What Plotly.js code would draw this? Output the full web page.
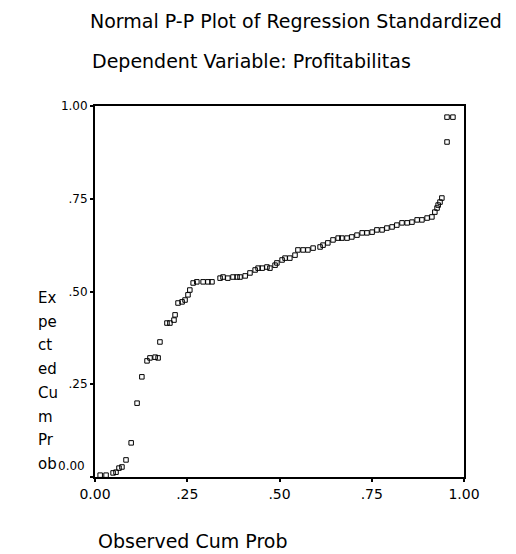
<!DOCTYPE html>
<html>
<head>
<meta charset="utf-8">
<script src="https://cdn.plot.ly/plotly-3.0.1.min.js"></script>
<style>html,body{margin:0;padding:0;background:#fff;}#chart{width:516px;height:554px;}</style>
</head>
<body>
<div id="chart"></div>
<script>
// Observed cumulative probability (x) and expected cumulative probability (y)
var observedCumProb = [
  0.014,0.030,0.049,0.057,0.065,0.073,0.084,0.098,0.114,0.127,
  0.141,0.149,0.163,0.171,0.176,0.195,0.203,0.214,0.217,0.225,
  0.236,0.244,0.252,0.257,0.266,0.276,0.293,0.306,0.317,0.339,
  0.347,0.360,0.374,0.385,0.393,0.407,0.420,0.434,0.442,0.453,
  0.466,0.474,0.488,0.493,0.507,0.515,0.528,0.542,0.550,0.564,
  0.577,0.591,0.610,0.618,0.631,0.645,0.659,0.669,0.683,0.696,
  0.710,0.724,0.737,0.751,0.764,0.778,0.791,0.805,0.818,0.832,
  0.846,0.859,0.873,0.886,0.900,0.913,0.921,0.927,0.930,0.935,
  0.940,0.954,0.954,0.970
];
var expectedCumProb = [
  0.005,0.005,0.011,0.013,0.024,0.027,0.046,0.092,0.199,0.270,
  0.313,0.321,0.323,0.321,0.364,0.415,0.415,0.423,0.437,0.469,
  0.472,0.477,0.491,0.504,0.523,0.526,0.526,0.526,0.526,0.536,
  0.539,0.536,0.539,0.539,0.539,0.542,0.550,0.558,0.563,0.563,
  0.566,0.563,0.571,0.577,0.585,0.590,0.590,0.598,0.612,0.612,
  0.612,0.617,0.620,0.625,0.631,0.639,0.644,0.644,0.644,0.647,
  0.652,0.658,0.658,0.660,0.666,0.666,0.671,0.674,0.679,0.685,
  0.685,0.687,0.693,0.693,0.698,0.701,0.714,0.725,0.733,0.741,
  0.752,0.903,0.970,0.970
];
var tickValues = [0, 0.25, 0.5, 0.75, 1];
var xTickLabels = ["0.00", ".25", ".50", ".75", "1.00"];
var yTickLabels = ["0.00", ".25", ".50", ".75", "1.00"];
var yTitleLines = ["Ex","pe","ct","ed","Cu","m","Pr","ob"];

var FONT = "DejaVu Sans, Arial, sans-serif";
var plotTop = 106, plotBottom = 477, plotH = plotBottom - plotTop;

var annotations = [];
// subtitle
annotations.push({
  text: "Dependent Variable: Profitabilitas",
  xref: "paper", yref: "paper", x: (90-95)/369, y: (plotBottom-61)/plotH,
  xanchor: "left", yanchor: "middle", showarrow: false,
  font: {family: FONT, size: 19, color: "#000"}
});
// stacked y-axis title
var firstY = 298, step = 23.7;
yTitleLines.forEach(function(t, i){
  annotations.push({
    text: t, xref: "paper", yref: "paper",
    x: (36-95)/369, y: (plotBottom-(firstY+i*step))/plotH,
    xanchor: "left", yanchor: "middle", showarrow: false,
    font: {family: FONT, size: 15, color: "#000"}
  });
});
// lowest y tick label, raised above the corner as in the original
annotations.push({
  text: yTickLabels[0], xref: "paper", yref: "y",
  x: (87-95)/369, y: tickValues[0], yshift: 11,
  xanchor: "right", yanchor: "middle", showarrow: false,
  font: {family: FONT, size: 12, color: "#000"}
});
// x-axis title
annotations.push({
  text: "Observed Cum Prob", xref: "paper", yref: "paper",
  x: (96-95)/369, y: (plotBottom-541)/plotH,
  xanchor: "left", yanchor: "middle", showarrow: false,
  font: {family: FONT, size: 19, color: "#000"}
});

var trace = {
  x: observedCumProb, y: expectedCumProb,
  type: "scatter", mode: "markers",
  marker: {symbol: "square-open", size: 4.5, color: "#000", line: {width: 1, color: "#222"}},
  hoverinfo: "none", cliponaxis: false
};

var yTickShown = yTickLabels.map(function(t, i){ return i === 0 ? "" : t; });

var layout = {
  width: 516, height: 554,
  margin: {l: 95, r: 52, t: 106, b: 77},
  paper_bgcolor: "#fff", plot_bgcolor: "#fff",
  showlegend: false,
  title: {
    text: "Normal P-P Plot of Regression Standardized",
    xref: "container", yref: "container",
    x: 90/516, y: 1 - 21/554, xanchor: "left", yanchor: "middle",
    font: {family: FONT, size: 19, color: "#000"}
  },
  xaxis: {
    range: [0, 1], tickvals: tickValues, ticktext: xTickLabels,
    showgrid: false, zeroline: false, showline: true, mirror: true,
    linecolor: "#000", linewidth: 2, ticks: "outside", ticklen: 3, tickwidth: 2, tickcolor: "#000",
    tickfont: {family: FONT, size: 14, color: "#000"}
  },
  yaxis: {
    range: [0, 1], tickvals: tickValues, ticktext: yTickShown,
    showgrid: false, zeroline: false, showline: true, mirror: true,
    linecolor: "#000", linewidth: 2, ticks: "outside", ticklen: 3, tickwidth: 2, tickcolor: "#000",
    tickfont: {family: FONT, size: 12, color: "#000"}
  },
  annotations: annotations
};

Plotly.newPlot("chart", [trace], layout, {displayModeBar: false, staticPlot: true});
</script>
</body>
</html>
